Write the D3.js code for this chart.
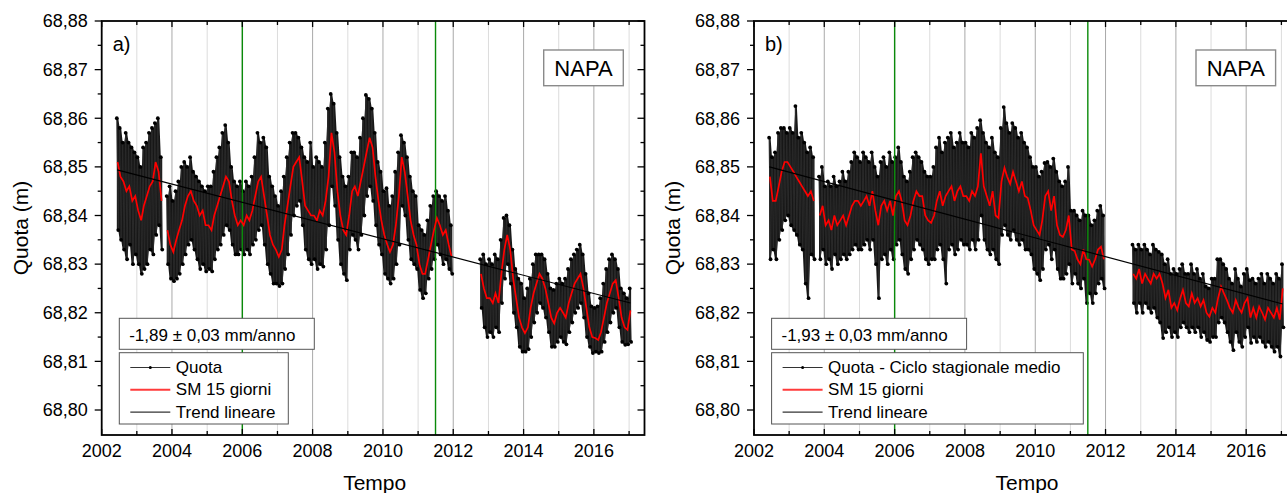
<!DOCTYPE html>
<html>
<head>
<meta charset="utf-8">
<script src="https://cdn.jsdelivr.net/npm/d3@7"></script>
<style>
  body { margin: 0; background: #fff; }
  svg { display: block; font-family: "Liberation Sans", Arial, sans-serif; }
</style>
</head>
<body>
<svg id="chart" width="1287" height="493"></svg>
<script>
// all series are in mm above 68,80 m, one value per month (Jun 2002 -> Jan 2017)
// null = no data
const BASE_M = 68.80;
const firstMonth = new Date(2002, 5, 1);
const endMonth = new Date(2017, 1, 1);

// panel a) - Quota
const smA = [
  51, 48, 47, 45, 46, 43, 44,                                   // 2002 (Jun-Dec)
  41, 39, 42, 44, 46, 47, 51, 49, 43, null, 37, 34,             // 2003
  32.5, 35, 37, 39, 42, 44, 45, 43, 42, 40, 41, 38,             // 2004
  38, 37, 40, 42, 44, 46, 48, 47, 43, 40, 38, 39,               // 2005
  38, 40, 39, 41, 44, 47, 48, 44, 40, 36, 34, 33,               // 2006
  31.5, 33, 38, 42, 46, 50, 51, 52, 47, 42, 41, 40,             // 2007
  40, 39, 41, 40, 43, 48, 57, 53, 45, 40, 37, 36,               // 2008
  40, 45, 46, 44, 47, 50, 53, 56, 54, 48, 43, 39,               // 2009
  36, 34, 32.5, 34, 38, 44, 52, 49, 44, 39, 36, 34,             // 2010
  30, 28, 28, 31, 34, 37, 39.5, 38, 36, 37, 34, 31.5,           // 2011
  null, null, null, null, null, null, null, null, null, 28, 25, 23, // 2012
  23, 22, 24, 22, 28, 33, 36, 33, 27, 23, 19, 17,               // 2013
  15.8, 17, 21, 24, 26, 28, 27, 25, 22, 19, 17.8, 20,           // 2014
  21, 20, 19, 22, 24, 26, 27, 28, 25, 21, 17, 15,               // 2015
  14.8, 14.4, 16, 19, 22, 24, 26, 26.7, 23, 19, 17, 16.5,       // 2016
  20.5                                                          // 2017
];
const hiA = [
  60, 58, 55, 57, 55, 54, 53,
  52, 50, 54, 55, 57, 58, 59, 60, 52, null, 44, 46,
  43, 45, 47, 50, 51, 50, 52, 49, 48, 47, 46, 45,
  46, 46, 49, 52, 54, 57, 58.6, 55, 50, 47, 46, 47,
  45, 47, 46, 48, 52, 57, 55, 56, 54, 48, 46, 44,
  42, 45, 48, 52, 55, 57, 57, 56, 54, 52, 51, 55,
  50, 52, 51, 50, 55, 62, 65, 63, 57, 52, 48, 46,
  48, 53, 53, 52, 56, 60, 64.8, 64, 62, 57, 51, 49,
  45, 45.6, 42, 44, 49, 53, 56.5, 55, 52, 48, 45, 44,
  38, 37, 36, 39, 42, 44, 45, 44, 43, 44, 41, 38,
  null, null, null, null, null, null, null, null, null, 31, 32, 30,
  31, 30, 32, 31, 35, 39.5, 40, 38, 33, 29, 27, 26,
  23, 25, 27, 30, 32, 32, 32, 31, 28, 25, 24.7, 26,
  27, 26, 27, 29, 31, 32, 33, 34, 32, 28, 24, 21.3,
  21, 21.3, 23, 26, 29, 31, 32, 31, 29, 25, 24, 23,
  25
];
const loA = [
  37, 35, 33, 31, 34, 30, 32,
  30, 28, 29, 30, 33, 32, 36, 38, 33, null, 30, 27,
  26.5, 27, 28, 30, 32, 34, 35, 33, 31, 29, 30, 28.5,
  29, 28.5, 31, 33, 34, 36, 38, 37, 34, 32, 32, 33,
  32, 33, 32, 34, 35, 37, 38, 34, 30, 28, 26, 26,
  25.5, 26, 29, 32, 36, 40, 42, 43, 38, 33, 31, 30,
  31, 29, 30, 29.5, 33, 38, 46, 42, 35, 30, 28, 26.7,
  33, 36, 35, 33, 36, 40, 44, 46, 43, 38, 34, 32,
  28, 27, 26, 27, 30, 34, 42, 40, 35, 31, 30, 29,
  24.7, 23, 24, 27, 29, 31, 34, 32, 30, 31, 29, 28,
  null, null, null, null, null, null, null, null, null, 21, 17, 15,
  16, 15, 17, 16, 22, 27, 30, 26, 20, 17, 13, 12,
  12, 12.5, 15, 18, 20, 22, 21, 19, 16, 13, 13, 14,
  15, 14, 13.5, 16, 18, 20, 21, 22, 19, 15, 13, 11.7,
  12, 11.7, 12, 14, 16, 18, 20, 21, 17, 14, 13.4, 13.5,
  14
];

// panel b) - Quota - Ciclo stagionale medio
const smB = [
  48, 43, 43, 46, 49, 51, 51,
  50, 49, 48, 47, 46, 45, 44, 45, 43, null, 40, 42,
  38, 39, 37, 40, 38, 39, 40, 38, 40, 42, 43, 43,
  42, 43, 44, 42, 45, 41, 38, 42, 43, 41, 43, 40,
  44, 45, 43, 39, 38, 40, 43, 45, 44, 44, 40, 39,
  38.5, 40, 43, 45, 42, 44, 45, 46, 43, 45, 46, 44,
  44, 43, 45, 44, 46, 52.8, 46, 44, 42, 45, 40, 39.5,
  47, 49.8, 48, 46.5, 49, 47, 45, 47, 44, 43.6, 41, 38,
  37, 36, 39, 44, 45, 41, 44, 38, 36, 35.6, 37, 40,
  33, 32.7, 31, 30, 33, 31, 30.9, 29.5, 31, 33, 33.6, 31,
  null, null, null, null, null, null, null, null, null, 28, 27, 29,
  26, 28, 27, 26, 28, 27, 28, 26, 23, 24.7, 21, 22,
  20.5, 23, 24.7, 22, 21.3, 24, 22, 23, 21.3, 22.6, 20, 19.2,
  21, 20, 23, 25.4, 24, 22.6, 21, 20, 22.6, 21, 20, 22,
  23, 19, 21, 19, 21.3, 20, 18.6, 21, 20, 19, 21, 18.6,
  25
];
const hiB = [
  56, 52, 53, 57, 58, 58, 57,
  58, 57, 62.5, 56, 57, 55, 53, 54, 52, null, 48, 50,
  46, 47, 46, 48, 46, 47, 49, 47, 49, 51, 53, 52,
  51, 53, 52, 51, 53, 50, 48, 51, 52, 50, 53, 51,
  52, 54, 51, 48, 47, 49, 52, 53, 52, 51, 49, 48,
  48, 50, 54, 56, 53, 55, 56, 57, 54, 55, 57, 55,
  55, 54, 57, 56, 58, 59.6, 57, 55, 54, 56, 53, 52,
  58, 62.3, 59, 57, 59, 58, 56, 57, 55, 54, 52, 50,
  50, 48, 49, 50.8, 51, 50, 51.7, 49, 47, 46, 47, 50,
  41, 41, 40, 39, 41, 40, 40, 38, 39, 41, 42, 40,
  null, null, null, null, null, null, null, null, null, 34, 33, 34,
  33, 34, 33, 32, 34, 33, 32.5, 32, 30, 31, 28, 29,
  28, 29, 30, 28, 28, 30, 28, 29, 27, 28, 25.4, 25,
  27, 27, 31, 31, 30, 29, 27, 26, 29, 27, 25.4, 28,
  29, 26.7, 27, 26, 27, 28, 26, 28, 27, 26, 28, 27,
  30
];
const loB = [
  31, 33, 31, 35, 37, 39, 40,
  38, 37, 36, 34, 33, 26, 23, 32, 31, null, 31, 33,
  30, 31, 29, 32, 30, 31, 32, 31, 32, 33, 34, 33,
  33, 34, 35, 33, 35, 30, 23, 31, 32, 30, 33, 31,
  34, 35, 32, 29, 28, 31, 33, 35, 34, 33, 31, 30,
  31, 31, 33, 34, 31, 26, 33, 34, 32, 33, 35, 34,
  34, 33, 35, 33, 35, 40, 35, 33, 32, 33, 31, 30,
  36, 38, 36, 35, 37, 35, 34, 35, 33, 33, 32, 29,
  28, 26.7, 29, 33, 34, 31, 33, 29, 27, 27, 28, 30,
  26, 28, 26, 25, 27, 22, 24, 22, 24, 26, 27, 25,
  null, null, null, null, null, null, null, null, null, 22, 20, 22,
  20, 22, 21, 20, 21, 19, 18, 14.8, 16, 17, 15, 16,
  15, 17, 18, 17, 16, 17, 16, 17, 15, 16, 14.4, 14,
  15, 15, 18, 19, 18, 16, 14, 12.3, 16, 14, 13, 15,
  17, 13.8, 15, 14, 15, 14, 13, 14, 13, 12, 13, 11,
  17
];

// linear trends: start / end dates and values (mm above 68,80)
const trendDates = [new Date(2002, 5, 10), new Date(2017, 0, 15)];
const trendA = [49.4, 22.0];
const trendB = [50.0, 21.8];

// green reference lines
const markerDates = [new Date(2006, 0, 1), new Date(2011, 6, 1)];

const yTicks = [68.80, 68.81, 68.82, 68.83, 68.84, 68.85, 68.86, 68.87, 68.88];
const yMinorTicks = [68.805, 68.815, 68.825, 68.835, 68.845, 68.855, 68.865, 68.875];
const slopeLabels = ["-1,89 \u00b1 0,03 mm/anno", "-1,93 \u00b1 0,03 mm/anno"];
const legendLabels = [
  ["Quota", "SM 15 giorni", "Trend lineare"],
  ["Quota - Ciclo stagionale medio", "SM 15 giorni", "Trend lineare"]
];

const svg = d3.select("#chart");
const months = d3.timeMonth.range(firstMonth, endMonth);
const mm = v => BASE_M + v / 1000;
const itFmt = d3.formatLocale({ decimal: ",", thousands: ".", grouping: [3], currency: ["", "\u20ac"] }).format(".2f");

const plotTop = 21, plotBottom = 435, plotW = 542.8;
const y = d3.scaleLinear().domain([68.79486, 68.88]).range([plotBottom, plotTop]);

function drawPanel(p) {
  const x = d3.scaleTime()
    .domain([new Date(2002, 0, 1), new Date(2017, 5, 10)])
    .range([p.left, p.left + plotW]);
  const right = p.left + plotW;
  const years = d3.timeYear.range(new Date(2002, 0, 1), new Date(2018, 0, 1))
    .filter(d => x(d) <= right + 0.5);
  const g = svg.append("g");

  const clipId = "clip-" + p.id;
  g.append("clipPath").attr("id", clipId)
    .append("rect").attr("x", p.left).attr("y", plotTop).attr("width", plotW).attr("height", plotBottom - plotTop);

  // yearly grid, darker on even years
  g.append("g").selectAll("line")
    .data(years.filter(d => d.getFullYear() > 2002))
    .join("line")
    .attr("x1", d => x(d)).attr("x2", d => x(d))
    .attr("y1", plotTop).attr("y2", plotBottom)
    .attr("stroke", d => d.getFullYear() % 2 === 0 ? "#a9a9a9" : "#dcdcdc")
    .attr("stroke-width", 1);

  const data = g.append("g").attr("clip-path", `url(#${clipId})`);

  // raw series: monthly high / low points joined in time order
  const pts = [];
  months.forEach((m, i) => {
    if (p.hi[i] == null) { pts.push(null); return; }
    pts.push({ t: d3.timeDay.offset(m, 6), v: p.hi[i], lo: p.lo[i] });
    pts.push({ t: d3.timeDay.offset(m, 21), v: p.lo[i], hi: p.hi[i] });
  });
  // dense core of the daily cloud
  const band = d3.area().defined(d => d != null)
    .x(d => x(d.t))
    .y0(d => y(mm(d.lo != null ? d.lo : d.v)))
    .y1(d => y(mm(d.hi != null ? d.hi : d.v)));
  data.append("path").datum(pts)
    .attr("d", band)
    .attr("fill", "#050505").attr("fill-opacity", 0.93);
  const rawLine = d3.line().defined(d => d != null).x(d => x(d.t)).y(d => y(mm(d.v)));
  data.append("path").datum(pts)
    .attr("d", rawLine)
    .attr("fill", "none").attr("stroke", "#2a2a2a").attr("stroke-width", 1);
  data.append("g").selectAll("circle")
    .data(pts.filter(d => d != null))
    .join("circle")
    .attr("cx", d => x(d.t)).attr("cy", d => y(mm(d.v)))
    .attr("r", 1.9).attr("fill", "#000");

  // green markers
  data.append("g").selectAll("line")
    .data(markerDates).join("line")
    .attr("x1", d => x(d)).attr("x2", d => x(d))
    .attr("y1", plotTop).attr("y2", plotBottom)
    .attr("stroke", "#0a8a0a").attr("stroke-width", 1.4);

  // 15 day moving average
  const smPts = months.map((m, i) => ({ t: d3.timeDay.offset(m, 14), v: p.sm[i] }));
  data.append("path").datum(smPts)
    .attr("d", d3.line().defined(d => d.v != null).x(d => x(d.t)).y(d => y(mm(d.v))))
    .attr("fill", "none").attr("stroke", "#ff0000").attr("stroke-width", 1.7);

  // linear trend
  data.append("path").datum(trendDates.map((t, i) => ({ t, v: p.trend[i] })))
    .attr("d", d3.line().x(d => x(d.t)).y(d => y(mm(d.v))))
    .attr("fill", "none").attr("stroke", "#000").attr("stroke-width", 1.2);

  // ticks
  const tick = (x1, y1, x2, y2) => g.append("line")
    .attr("x1", x1).attr("y1", y1).attr("x2", x2).attr("y2", y2)
    .attr("stroke", "#000").attr("stroke-width", 1.3);
  years.forEach(d => {
    const len = d.getFullYear() % 2 === 0 ? 6 : 4;
    tick(x(d), plotBottom, x(d), plotBottom - len);
    tick(x(d), plotTop, x(d), plotTop + len);
  });
  yTicks.forEach(v => { tick(p.left, y(v), p.left - 7, y(v)); tick(right, y(v), right - 7, y(v)); });
  yMinorTicks.forEach(v => { tick(p.left, y(v), p.left - 4, y(v)); tick(right, y(v), right - 4, y(v)); });

  // frame
  g.append("rect")
    .attr("x", p.left).attr("y", plotTop).attr("width", plotW).attr("height", plotBottom - plotTop)
    .attr("fill", "none").attr("stroke", "#000").attr("stroke-width", 1.8);

  // tick labels
  g.append("g").selectAll("text")
    .data(yTicks).join("text")
    .attr("x", p.left - 14).attr("y", d => y(d)).attr("dy", "0.35em")
    .attr("text-anchor", "end").attr("font-size", 18)
    .text(d => itFmt(d));
  g.append("g").selectAll("text")
    .data(years.filter(d => d.getFullYear() % 2 === 0)).join("text")
    .attr("x", d => x(d)).attr("y", 457)
    .attr("text-anchor", "middle").attr("font-size", 18)
    .text(d => d.getFullYear());

  // axis titles
  g.append("text")
    .attr("transform", `translate(${p.left - 74},${(plotTop + plotBottom) / 2}) rotate(-90)`)
    .attr("text-anchor", "middle").attr("font-size", 21)
    .text("Quota (m)");
  g.append("text")
    .attr("x", p.left + 273).attr("y", 490)
    .attr("text-anchor", "middle").attr("font-size", 21)
    .text("Tempo");

  // panel letter and station name
  g.append("text").attr("x", p.left + 11).attr("y", 51).attr("font-size", 20).text(p.letter);
  g.append("rect")
    .attr("x", p.left + 442).attr("y", 50).attr("width", 79.6).attr("height", 35.7)
    .attr("fill", "#fff").attr("stroke", "#8a8a8a").attr("stroke-width", 1.4);
  g.append("text")
    .attr("x", p.left + 481.8).attr("y", 76).attr("text-anchor", "middle").attr("font-size", 22)
    .text("NAPA");

  // slope box
  g.append("rect")
    .attr("x", p.left + 17.6).attr("y", 318.3).attr("width", 195).attr("height", 31)
    .attr("fill", "#fff").attr("stroke", "#555").attr("stroke-width", 1);
  g.append("text")
    .attr("x", p.left + 27.5).attr("y", 340.5).attr("font-size", 17)
    .text(p.slope);

  // legend
  const lx = p.left + 17.6;
  g.append("rect")
    .attr("x", lx).attr("y", 352.7).attr("width", p.legendW).attr("height", 71.3)
    .attr("fill", "#fff").attr("stroke", "#555").attr("stroke-width", 1);
  const rows = [
    { stroke: "#333", w: 1, dot: true },
    { stroke: "#ff3b3b", w: 2, dot: false },
    { stroke: "#000", w: 1, dot: false }
  ];
  rows.forEach((r, i) => {
    const ry = 367.5 + i * 22.3;
    g.append("line")
      .attr("x1", lx + 11).attr("x2", lx + 51).attr("y1", ry).attr("y2", ry)
      .attr("stroke", r.stroke).attr("stroke-width", r.w);
    if (r.dot) g.append("circle").attr("cx", lx + 31).attr("cy", ry).attr("r", 1.5).attr("fill", "#000");
    g.append("text")
      .attr("x", lx + 56.5).attr("y", ry + 5.5).attr("font-size", 17)
      .text(p.legend[i]);
  });
}

drawPanel({ id: "a", left: 101.7, letter: "a)", sm: smA, hi: hiA, lo: loA, trend: trendA,
  slope: slopeLabels[0], legend: legendLabels[0], legendW: 169 });
drawPanel({ id: "b", left: 754, letter: "b)", sm: smB, hi: hiB, lo: loB, trend: trendB,
  slope: slopeLabels[1], legend: legendLabels[1], legendW: 311.7 });
</script>
</body>
</html>
